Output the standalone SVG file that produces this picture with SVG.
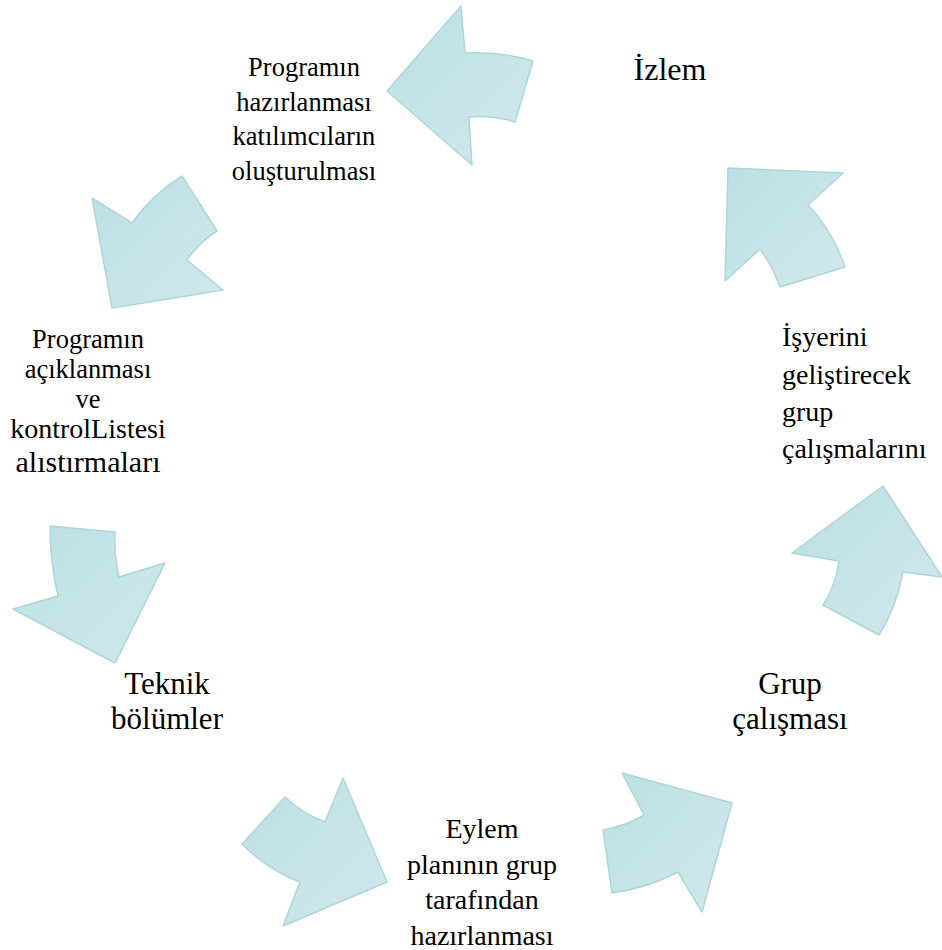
<svg xmlns="http://www.w3.org/2000/svg" width="942" height="950" viewBox="0 0 942 950">
<defs>
<linearGradient id="g" x1="0" y1="0" x2="1" y2="1">
<stop offset="0" stop-color="#bcdfe3"/>
<stop offset="1" stop-color="#d0e9ec"/>
</linearGradient>
<style>
.arr{fill:url(#g);stroke:#acd6db;stroke-width:1.5;stroke-linejoin:round}
.t{font-family:"Liberation Serif","Times New Roman",serif;fill:#000;font-size:26.5px}
.m{font-size:28px}
.big{font-size:31px}
.c{text-anchor:middle}
</style>
</defs>
<rect width="942" height="950" fill="#fff"/>
<g id="connectors">
<path class="arr" d="M461,6 L465,53 Q500,51 533,61 L515,122 Q492,115 469,117 L472,165 L387,91 Z"/>
<path class="arr" d="M728,168 L843,173 L808,205 Q832,230 845,267 L780,287 Q772,265 760,249 L725,281 Z"/>
<path class="arr" d="M883,486 L942,577 L903,572 Q896,608 879,635 L823,605 Q836,585 839,561 L792,553 Z"/>
<path class="arr" d="M622,773 L732,803 L702,912 L678,872 Q648,888 612,893 L603,830 Q626,826 644,815 Z"/>
<path class="arr" d="M343,778 L387,882 L283,926 L300,882 Q268,870 242,844 L285,797 Q303,814 325,822 Z"/>
<path class="arr" d="M50,526 L115,532 Q114,556 119,577 L165,563 L115,663 L13,609 L58,596 Q50,562 50,526 Z"/>
<path class="arr" d="M92,198 L132,223 Q152,195 182,176 L217,231 Q198,243 187,260 L223,290 L112,308 Z"/>
</g>
<g id="n1"><text class="t c"><tspan x="304" y="76">Programın</tspan><tspan x="304" y="111">hazırlanması</tspan><tspan x="304" y="145">katılımcıların</tspan><tspan x="304" y="180">oluşturulması</tspan></text></g>
<g id="n2"><text class="t big c" x="670" y="80" style="font-size:32px">İzlem</text></g>
<g id="n3"><text class="t m"><tspan x="782" y="346">İşyerini</tspan><tspan x="782" y="384">geliştirecek</tspan><tspan x="782" y="421">grup</tspan><tspan x="782" y="458">çalışmalarını</tspan></text></g>
<g id="n4"><text class="t big c"><tspan x="790" y="694">Grup</tspan><tspan x="790" y="729">çalışması</tspan></text></g>
<g id="n5"><text class="t m c"><tspan x="482" y="838">Eylem</tspan><tspan x="482" y="874">planının grup</tspan><tspan x="482" y="909">tarafından</tspan><tspan x="482" y="945">hazırlanması</tspan></text></g>
<g id="n6"><text class="t big c"><tspan x="167" y="694">Teknik</tspan><tspan x="167" y="729">bölümler</tspan></text></g>
<g id="n7"><text class="t c"><tspan x="88" y="348">Programın</tspan><tspan x="88" y="378">açıklanması</tspan><tspan x="88" y="408">ve</tspan><tspan x="88" y="438" style="font-size:28px">kontrolListesi</tspan><tspan x="88" y="472" style="font-size:30px">alıstırmaları</tspan></text></g>
</svg>
